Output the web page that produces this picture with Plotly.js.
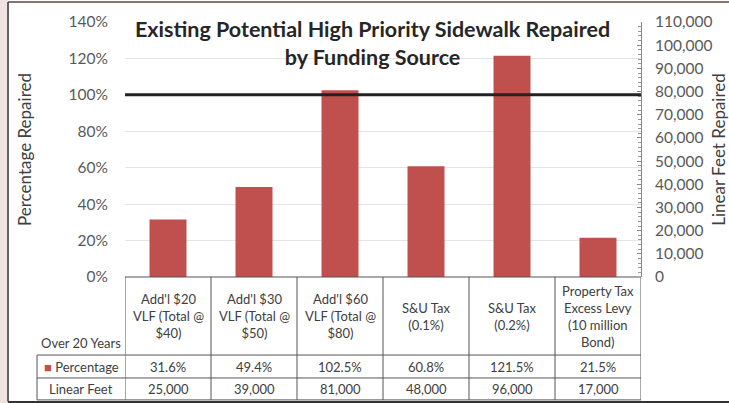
<!DOCTYPE html>
<html><head><meta charset="utf-8">
<script src="https://cdn.plot.ly/plotly-3.0.1.min.js"></script>
<style>html,body{margin:0;padding:0;background:#fff}#c{width:729px;height:403px}</style>
</head><body><div id="c"></div>
<script>
const categories = ["Add'l $20<br>VLF (Total @<br>$40)", "Add'l $30<br>VLF (Total @<br>$50)", "Add'l $60<br>VLF (Total @<br>$80)", "S&U Tax<br>(0.1%)", "S&U Tax<br>(0.2%)", "Property Tax<br>Excess Levy<br>(10 million<br>Bond)"];
const percentage = [31.6, 49.4, 102.5, 60.8, 121.5, 21.5];
const percentageLabels = ["31.6%", "49.4%", "102.5%", "60.8%", "121.5%", "21.5%"];
const linearFeet = [25000, 39000, 81000, 48000, 96000, 17000];
const linearFeetLabels = ["25,000", "39,000", "81,000", "48,000", "96,000", "17,000"];
const target = 100;

const FONT = "Lato, 'Open Sans', sans-serif";
const red = "#c0504d";
const txt = "#404040";
const xs = categories.map((_, i) => i);

const traces = [
  {type: 'bar', x: xs, y: percentage, marker: {color: red}, width: 0.43, hoverinfo: 'skip', name: 'Percentage'},
  {type: 'scatter', mode: 'markers', x: xs, y: linearFeet, yaxis: 'y2', marker: {opacity: 0}, hoverinfo: 'skip', showlegend: false}
];

// table geometry in paper units
const rowTop = 0, rowCat = -0.306, rowPct = -0.396, rowBottom = -0.482, labelLeft = -0.1705;
const shapes = [];
const lineStyle = {color: '#555', width: 1};
for (let i = 0; i <= categories.length; i++) {
  shapes.push({type: 'line', xref: 'x', yref: 'paper', x0: i - 0.5, x1: i - 0.5, y0: rowTop, y1: rowBottom, line: lineStyle});
}
shapes.push({type: 'line', xref: 'paper', yref: 'paper', x0: 0, x1: 1, y0: rowTop, y1: rowTop, line: lineStyle});
[rowCat, rowPct, rowBottom].forEach(y => shapes.push({type: 'line', xref: 'paper', yref: 'paper', x0: labelLeft, x1: 1, y0: y, y1: y, line: lineStyle}));
shapes.push({type: 'line', xref: 'paper', yref: 'paper', x0: labelLeft, x1: labelLeft, y0: rowCat, y1: rowBottom, line: lineStyle});
shapes.push({type: 'line', xref: 'paper', yref: 'y', x0: 0, x1: 1.0, y0: target, y1: target, line: {color: '#222', width: 3}});
shapes.push({type: 'rect', xref: 'paper', yref: 'paper', x0: -0.25, x1: -0.2267, y0: -0.6, y1: 1.2, fillcolor: '#f1e1e1', line: {width: 0}, layer: 'below'});
shapes.push({type: 'line', xref: 'paper', yref: 'paper', x0: -0.2267, x1: -0.2267, y0: -0.488, y1: 1.078, line: {color: '#333', width: 1.5}});
shapes.push({type: 'line', xref: 'paper', yref: 'paper', x0: -0.2267, x1: 1.2, y0: 1.078, y1: 1.078, line: {color: '#5a4848', width: 1.5}});
shapes.push({type: 'line', xref: 'paper', yref: 'paper', x0: -0.2267, x1: 1.2, y0: -0.49, y1: -0.49, line: {color: '#333', width: 2}});

const cellFont = {family: FONT, size: 13, color: txt};
const annotations = [];
categories.forEach((c, i) => {
  annotations.push({xref: 'x', yref: 'paper', x: i, y: (rowTop + rowCat) / 2, text: c, showarrow: false, font: cellFont, yanchor: 'middle'});
  annotations.push({xref: 'x', yref: 'paper', x: i, y: (rowCat + rowPct) / 2, text: percentageLabels[i], showarrow: false, font: cellFont, yanchor: 'middle'});
  annotations.push({xref: 'x', yref: 'paper', x: i, y: (rowPct + rowBottom) / 2, text: linearFeetLabels[i], showarrow: false, font: cellFont, yanchor: 'middle'});
});
const labelX = (labelLeft) / 2;
annotations.push({xref: 'paper', yref: 'paper', x: labelX, y: -0.258, xanchor: 'center', yanchor: 'middle', text: 'Over 20 Years', showarrow: false, font: cellFont});
annotations.push({xref: 'paper', yref: 'paper', x: labelX, y: (rowCat + rowPct) / 2, xanchor: 'center', yanchor: 'middle', text: '<span style="color:' + red + '">■</span> Percentage', showarrow: false, font: cellFont});
annotations.push({xref: 'paper', yref: 'paper', x: labelX, y: (rowPct + rowBottom) / 2, xanchor: 'center', yanchor: 'middle', text: 'Linear Feet', showarrow: false, font: cellFont});
annotations.push({xref: 'paper', yref: 'paper', x: 0.479, y: 0.918, xanchor: 'center', yanchor: 'middle', text: '<b>Existing Potential High Priority Sidewalk Repaired<br>by Funding Source</b>', showarrow: false, font: {family: FONT, size: 21.5, color: '#262626'}});

const layout = {
  width: 729, height: 403,
  margin: {l: 125, r: 88, t: 22, b: 126},
  paper_bgcolor: '#fff', plot_bgcolor: '#fff',
  showlegend: false,
  font: {family: FONT, color: '#595959'},
  xaxis: {range: [-0.5, categories.length - 0.5], showticklabels: false, showgrid: false, zeroline: false, ticks: ''},
  yaxis: {range: [0, 140], dtick: 20, ticksuffix: '%', gridcolor: '#e4e4e4', zeroline: false, showline: false,
    tickfont: {size: 15.5, color: '#595959'}, ticklabelstandoff: 16,
    title: {text: 'Percentage Repaired', font: {size: 17, color: '#404040'}, standoff: 32}},
  yaxis2: {overlaying: 'y', side: 'right', range: [0, 110000], dtick: 10000, tickformat: ',d', showgrid: false, zeroline: false,
    showline: true, linecolor: '#888', linewidth: 1, ticks: 'inside', ticklen: 4, tickcolor: '#888',
    minor: {dtick: 2000, ticks: 'inside', ticklen: 3, tickcolor: '#999'},
    tickfont: {size: 15.5, color: '#595959'}, ticklabelstandoff: 10,
    title: {text: 'Linear Feet Repaired', font: {size: 17, color: '#404040'}, standoff: 6}},
  shapes: shapes,
  annotations: annotations
};
Plotly.newPlot('c', traces, layout, {displayModeBar: false, staticPlot: true});
</script></body></html>
